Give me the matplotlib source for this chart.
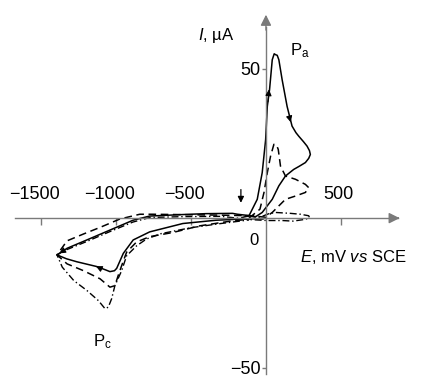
import matplotlib
matplotlib.use("Agg")
import matplotlib.pyplot as plt

plt.rcParams['font.family'] = ['Liberation Sans', 'DejaVu Sans']
plt.rcParams['mathtext.fontset'] = 'custom'
plt.rcParams['mathtext.rm'] = 'Liberation Sans'
plt.rcParams['mathtext.it'] = 'Liberation Sans:italic'

# potential (mV vs SCE) and current (uA)
solid_E = [-160, -113, -58, -25, -2, 9, 24, 42, 55, 64, 75, 86, 108, 141, 174, 200, 219, 250, 274, 290, 296,
           285, 263, 220, 185, 130, 86, 42, -25, -68, -120, -190, -223, -400, -554, -775, -886, -1040,
           -1194, -1326, -1393, -1330, -1261, -1128, -1070, -1040, -1010, -995, -951, -885, -775, -554,
           -333, -113, -20]
solid_I = [0.2, 0.8, 6.3, 15.2, 26.3, 37.4, 43, 53, 55, 54.7, 54.5, 53, 46.3, 37.4, 30.8, 28.6, 27.4, 25.6, 24.1, 22.6, 21.3,
           20.0, 18.6, 17.3, 16.3, 14.1, 10.8, 6.3, 1.9, 0.5, 0.9, 1.3, 1.6, 1.5, 1.2, 0.7, -0.7, -4,
           -7.3, -10.1, -12.3, -13.6, -14.6, -16.2, -17.3, -17.9, -17.6, -16.8, -11.8, -7.3, -4.6, -1.8,
           -0.7, -0.2, -0.3]

dash_E = [-113, -40, -13, 9, 31, 53, 70, 82, 97, 130, 197, 263, 285, 263, 197, 130, 86, 42, -2,
          -100, -300, -600, -755, -841, -974, -1106, -1216, -1326, -1393, -1326, -1216, -1106,
          -1040, -1007, -985, -962, -929, -863, -775, -620, -444, -223, -113]
dash_I = [0, 3, 8.6, 15.2, 20.8, 24.7, 24.5, 23, 17.4, 14.1, 13, 11.3, 10.2, 8.6, 7.4, 6.3, 4.1, 1.9, 0.3,
          0.8, 1.0, 1.2, 1.3, 1.3, -0.3, -3.1, -5.3, -7.6, -12.3, -15.3, -17.6, -20.3,
          -23.1, -22.6, -19.2, -15.9, -11.4, -8.0, -6.2, -4.8, -2.6, -0.9, -0.4]

dashdot_E = [-113, -30, 20, 64, 163, 230, 285, 290, 263, 180, 108, 9, -100, -300, -554, -775, -886,
             -1040, -1194, -1326, -1393, -1358, -1281, -1194, -1117, -1073, -1051, -1029, -1007,
             -962, -929, -863, -797, -700, -500, -300, -113]
dashdot_I = [-0.3, 0.5, 1.5, 1.9, 1.6, 1.3, 0.8, 0.2, -0.4, -1.0, -0.8, -0.8, -0.5, 0.6, 0.5, 0.2, -1.3,
             -4.5, -7.8, -10.5, -12.3, -16.4, -20.9, -24.2, -27.6, -30.3, -29.8, -27, -22.6,
             -17.6, -12.6, -9.3, -7.0, -5.2, -3.2, -1.8, -0.6]

x_ticks = [-1500, -1000, -500, 500]
y_ticks = [-50, 50]

gray = '#7a7a7a'

fig = plt.figure(figsize=(4.29, 3.78), dpi=100)
ax = fig.add_axes([0, 0, 1, 1])
ax.set_xlim(-1773, 1087)
ax.set_ylim(-53.5, 73)

for s in ['top', 'right']:
    ax.spines[s].set_visible(False)
ax.spines['bottom'].set_position(('data', 0))
ax.spines['left'].set_position(('data', 0))
ax.spines['bottom'].set_bounds(-1670, 880)
ax.spines['left'].set_bounds(-52, 64)
for s in ['bottom', 'left']:
    ax.spines[s].set_color(gray)
    ax.spines[s].set_linewidth(1.0)

ax.set_xticks(x_ticks)
ax.set_xticklabels([])
ax.tick_params(axis='x', direction='out', length=5, width=1, color=gray)
ax.set_yticks(y_ticks)
ax.set_yticklabels(['50' if t > 0 else '\u221250' for t in y_ticks], fontsize=13)
ax.tick_params(axis='y', direction='out', length=3, width=1, color=gray, pad=1)

for t in x_ticks:
    lab = str(t).replace('-', '\u2212')
    off = -45 if t < 0 else -15
    ax.text(t + off, 7.9, lab, ha='center', va='center', fontsize=13)

# axis arrowheads
ax.annotate('', xy=(910, 0), xytext=(860, 0),
            arrowprops=dict(arrowstyle='-|>', color=gray, lw=1, mutation_scale=16))
ax.annotate('', xy=(0, 69), xytext=(0, 62),
            arrowprops=dict(arrowstyle='-|>', color=gray, lw=1, mutation_scale=16))

ax.plot(solid_E, solid_I, color='black', lw=1.1)
ax.plot(dash_E, dash_I, color='black', lw=1.1, dashes=(5, 3))
ax.plot(dashdot_E, dashdot_I, color='black', lw=1.0, dashes=(5, 2, 1, 2))

# direction arrows on the solid curve
arr = dict(arrowstyle='-|>', color='black', lw=0.8, mutation_scale=9)
ax.annotate('', xy=(22, 44), xytext=(12, 38), arrowprops=arr)
ax.annotate('', xy=(170, 31.2), xytext=(150, 35), arrowprops=arr)
ax.annotate('', xy=(-1393, -12.3), xytext=(-1330, -10.3), arrowprops=arr)
ax.annotate('', xy=(-1150, -15.7), xytext=(-1100, -16.9), arrowprops=arr)

# start marker
ax.annotate('', xy=(-167, 4.2), xytext=(-167, 10.5),
            arrowprops=dict(arrowstyle='-|>', color='black', lw=0.9, mutation_scale=9))

ax.text(-333, 61, r'$I$, µA', ha='center', va='center', fontsize=12)
ax.text(227, -12.9, r'$E$, mV $vs$ SCE', ha='left', va='center', fontsize=12)
ax.text(-80, -7.6, '0', ha='center', va='center', fontsize=12)
ax.text(160, 54.5, r'P$_{\mathrm{a}}$', ha='left', va='baseline', fontsize=12)
ax.text(-1153, -43, r'P$_{\mathrm{c}}$', ha='left', va='baseline', fontsize=12)

fig.savefig('out.png', dpi=100)
